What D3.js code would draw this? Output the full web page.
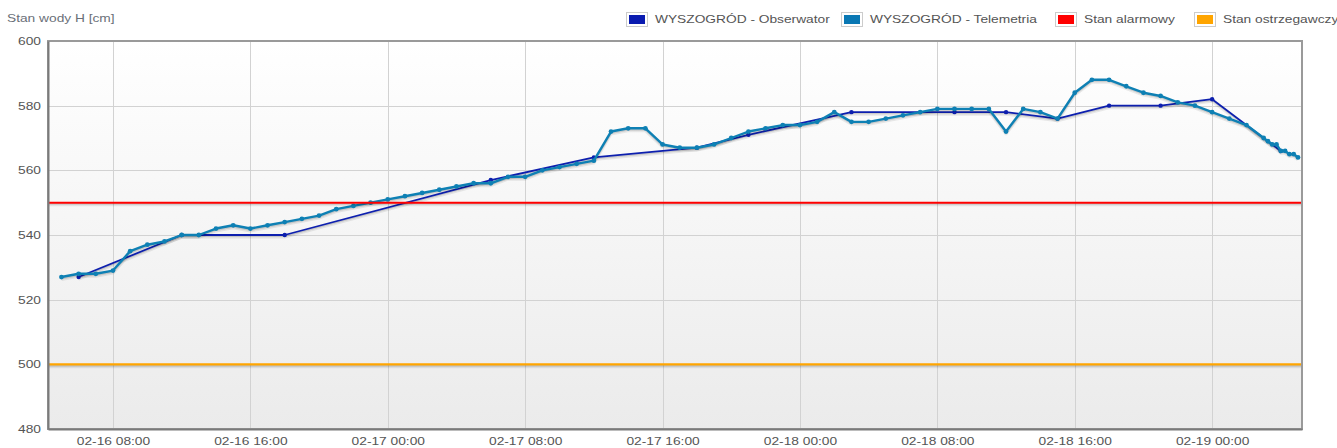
<!DOCTYPE html>
<html><head><meta charset="utf-8">
<script src="https://cdn.jsdelivr.net/npm/d3@7"></script>
<style>
html,body{margin:0;padding:0;background:#fff;overflow:hidden}
svg{display:block;font-family:"Liberation Sans",Arial,sans-serif}
</style>
</head><body>
<svg id="chart" width="1337" height="448"></svg>
<script>
// ---------- data ----------
const yTitle = "Stan wody H [cm]";
const legendLabels = ["WYSZOGRÓD - Obserwator", "WYSZOGRÓD - Telemetria", "Stan alarmowy", "Stan ostrzegawczy"];

const obsTimes = ["02-16 06:00","02-16 12:00","02-16 18:00","02-17 06:00","02-17 12:00","02-17 18:00","02-17 21:00",
  "02-18 03:00","02-18 09:00","02-18 12:00","02-18 15:00","02-18 18:00","02-18 21:00","02-19 00:00","02-19 04:00"];
const obsValues = [527,540,540,557,564,567,571,578,578,578,576,580,580,582,566];

const telTimes = [
  "02-16 05:00","02-16 06:00","02-16 07:00","02-16 08:00","02-16 09:00","02-16 10:00","02-16 11:00","02-16 12:00",
  "02-16 13:00","02-16 14:00","02-16 15:00","02-16 16:00","02-16 17:00","02-16 18:00","02-16 19:00","02-16 20:00",
  "02-16 21:00","02-16 22:00","02-16 23:00",
  "02-17 00:00","02-17 01:00","02-17 02:00","02-17 03:00","02-17 04:00","02-17 05:00","02-17 06:00","02-17 07:00",
  "02-17 08:00","02-17 09:00","02-17 10:00","02-17 11:00","02-17 12:00","02-17 13:00","02-17 14:00","02-17 15:00",
  "02-17 16:00","02-17 17:00","02-17 18:00","02-17 19:00","02-17 20:00","02-17 21:00","02-17 22:00","02-17 23:00",
  "02-18 00:00","02-18 01:00","02-18 02:00","02-18 03:00","02-18 04:00","02-18 05:00","02-18 06:00","02-18 07:00",
  "02-18 08:00","02-18 09:00","02-18 10:00","02-18 11:00","02-18 12:00","02-18 13:00","02-18 14:00","02-18 15:00",
  "02-18 16:00","02-18 17:00","02-18 18:00","02-18 19:00","02-18 20:00","02-18 21:00","02-18 22:00","02-18 23:00",
  "02-19 00:00","02-19 01:00","02-19 02:00","02-19 03:00","02-19 03:15","02-19 03:30","02-19 03:45","02-19 04:00",
  "02-19 04:15","02-19 04:30","02-19 04:45","02-19 05:00"];
const telValues = [
  527,528,528,529,535,537,538,540,540,542,543,542,543,544,545,546,548,549,550,
  551,552,553,554,555,556,556,558,558,560,561,562,563,572,573,573,568,567,567,568,570,572,573,574,
  574,575,578,575,575,576,577,578,579,579,579,579,572,579,578,576,584,588,588,586,584,583,581,580,
  578,576,574,570,569,568,568,566,566,565,565,564];

const alarmLevel = 550;
const warningLevel = 500;

const xTickLabels = ["02-16 08:00","02-16 16:00","02-17 00:00","02-17 08:00","02-17 16:00",
  "02-18 00:00","02-18 08:00","02-18 16:00","02-19 00:00"];
const yTickValues = [480,500,520,540,560,580,600];
const xDomainLabels = ["02-16 04:13","02-19 05:14"];
const yDomain = [480,600];

// ---------- helpers ----------
const parse = s => d3.utcParse("%Y-%m-%d %H:%M")("2024-" + s);
const fmt = d3.utcFormat("%m-%d %H:%M");
const SX = 1.25; // horizontal text stretch of the reference
function stretch(sel){
  sel.each(function(){
    const t = d3.select(this);
    const x = +t.attr("x") || 0;
    t.attr("x", 0).attr("transform", `translate(${x},0) scale(${SX},1)`);
  });
}

// ---------- layout ----------
const L = 48, R = 1302, T = 41, B = 429;
const svg = d3.select("#chart");
const x = d3.scaleUtc().domain(xDomainLabels.map(parse)).range([L, R]);
const y = d3.scaleLinear().domain(yDomain).range([B, T]);

const colors = {obs:"#0d1fae", tel:"#0e80b4", alarm:"#ff0000", warn:"#ffa500"};
const legendColors = ["#0a1bb0","#0a78b4","#ff0000","#ffa500"];

// background gradient
const defs = svg.append("defs");
const grad = defs.append("linearGradient").attr("id","bg").attr("x1",0).attr("y1",0).attr("x2",0).attr("y2",1);
grad.append("stop").attr("offset","0%").attr("stop-color","#ffffff");
grad.append("stop").attr("offset","100%").attr("stop-color","#ebebeb");
defs.append("clipPath").attr("id","clip").append("rect").attr("x",L).attr("y",T).attr("width",R-L).attr("height",B-T);

svg.append("rect").attr("x",L).attr("y",T).attr("width",R-L).attr("height",B-T).attr("fill","url(#bg)");

// grid lines
const xTicks = xTickLabels.map(parse);
svg.append("g").selectAll("line").data(xTicks).join("line")
  .attr("x1",d=>Math.round(x(d))+0.5).attr("x2",d=>Math.round(x(d))+0.5)
  .attr("y1",T).attr("y2",B).attr("stroke","#d2d2d2").attr("stroke-width",1);
svg.append("g").selectAll("line").data(yTickValues.slice(1,-1)).join("line")
  .attr("x1",L).attr("x2",R)
  .attr("y1",d=>Math.round(y(d))+0.5).attr("y2",d=>Math.round(y(d))+0.5)
  .attr("stroke","#d2d2d2").attr("stroke-width",1);

// plot content
const plot = svg.append("g").attr("clip-path","url(#clip)");
const line = d3.line().x(d=>x(d.t)).y(d=>y(d.v));

function drawShadow(pts, w){
  plot.append("path").datum(pts).attr("d",line).attr("fill","none")
    .attr("stroke","rgba(0,0,0,0.08)").attr("stroke-width",w+1).attr("transform","translate(0,2.2)").attr("stroke-linejoin","round");
  plot.append("path").datum(pts).attr("d",line).attr("fill","none")
    .attr("stroke","rgba(0,0,0,0.12)").attr("stroke-width",w).attr("transform","translate(0,1.2)").attr("stroke-linejoin","round");
}
function drawSeries(pts, color, w, r){
  drawShadow(pts, w);
  plot.append("path").datum(pts).attr("d",line).attr("fill","none")
    .attr("stroke",color).attr("stroke-width",w).attr("stroke-linejoin","round");
  if (r) plot.append("g").selectAll("circle").data(pts).join("circle")
    .attr("cx",d=>x(d.t)).attr("cy",d=>y(d.v)).attr("r",r).attr("fill",color);
}

const obs = obsTimes.map((t,i)=>({t:parse(t), v:obsValues[i]}));
const tel = telTimes.map((t,i)=>({t:parse(t), v:telValues[i]}));
const dom = x.domain();
const alarm = dom.map(t=>({t, v:alarmLevel}));
const warn = dom.map(t=>({t, v:warningLevel}));

drawSeries(obs, colors.obs, 1.8, 2.2);
drawSeries(tel, colors.tel, 2.4, 2.4);
drawSeries(alarm, colors.alarm, 2, 0);
drawSeries(warn, colors.warn, 2.2, 0);

// frame
svg.append("rect").attr("x",L).attr("y",T).attr("width",R-L).attr("height",B-T)
  .attr("fill","none").attr("stroke","#9a9a9a").attr("stroke-width",2);

// axes
const xAxis = svg.append("g").attr("transform",`translate(0,${B})`)
  .call(d3.axisBottom(x).tickValues(xTicks).tickFormat(fmt).tickSize(0).tickPadding(8));
const yAxis = svg.append("g").attr("transform",`translate(${L},0)`)
  .call(d3.axisLeft(y).tickValues(yTickValues).tickFormat(d3.format("d")).tickSize(0).tickPadding(7));
[xAxis, yAxis].forEach(a=>{
  a.select(".domain").attr("stroke","#7a7a7a").attr("stroke-width",2);
  a.selectAll("text").attr("font-size",11).attr("fill","#545454")
    .attr("font-family","'Liberation Sans',Arial,sans-serif");
  stretch(a.selectAll("text"));
});

// y title
const title = svg.append("text").attr("x",7).attr("y",22).attr("font-size",11)
  .attr("fill","#6a6f78").text(yTitle);
stretch(title);

// legend
const legendX = [626, 841, 1055, 1194];
const lg = svg.append("g").selectAll("g").data(legendLabels).join("g")
  .attr("transform",(d,i)=>`translate(${legendX[i]},12)`);
lg.append("rect").attr("x",0.5).attr("y",0.5).attr("width",21).attr("height",14)
  .attr("fill","#fff").attr("stroke","#cccccc");
lg.append("rect").attr("x",3).attr("y",3).attr("width",16).attr("height",9)
  .attr("fill",(d,i)=>legendColors[i]);
const lt = lg.append("text").attr("x",29).attr("y",11.5).attr("font-size",11)
  .attr("fill","#545454").text(d=>d);
stretch(lt);
</script>
</body></html>
